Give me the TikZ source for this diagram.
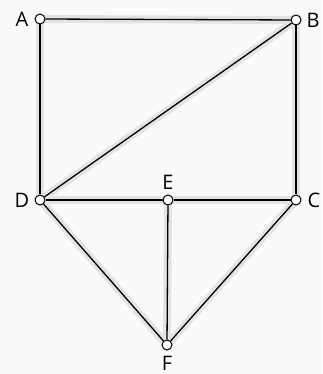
\documentclass[tikz,border=0pt]{standalone}
\usepackage{fontspec}
\setmainfont{Open Sans}
\begin{document}
\begin{tikzpicture}[x=1pt,y=1pt,
  pt/.style={circle,draw=black,fill=white,line width=1pt,inner sep=0pt,minimum size=10pt},
  edge/.style={line width=1.3pt,black},
  shade/.style={line width=8pt,gray!22,line cap=round},
  lab/.style={font=\fontsize{20}{20}\selectfont,inner sep=0pt}]
\fill[gray!4] (0,0) rectangle (322,374);
\useasboundingbox (0,0) rectangle (322,374);
\coordinate (a) at (40,355);
\coordinate (b) at (296,354);
\coordinate (d) at (40,174);
\coordinate (e) at (168,174);
\coordinate (c) at (296,174);
\coordinate (f) at (167,29);
% shadows
\begin{scope}[shift={(4,-4)}]
\draw[shade] (a)--(b)--(c)--(d)--cycle;
\draw[shade] (d)--(b);
\draw[shade] (d)--(f)--(c);
\draw[shade] (e)--(f);
\end{scope}
\node[pt] (A) at (a) {};
\node[pt] (B) at (b) {};
\node[pt] (D) at (d) {};
\node[pt] (E) at (e) {};
\node[pt] (C) at (c) {};
\node[pt] (F) at (f) {};
\draw[edge] (A)--(B);
\draw[edge] (A)--(D);
\draw[edge] (B)--(C);
\draw[edge] (B)--(D);
\draw[edge] (D)--(E);
\draw[edge] (E)--(C);
\draw[edge] (D)--(F);
\draw[edge] (C)--(F);
\draw[edge] (E)--(F);
\node[lab] (lA) at (22,355) {A};
\node[lab] (lB) at (313,354) {B};
\node[lab] (lD) at (22,174) {D};
\node[lab] (lE) at (168,192) {E};
\node[lab] (lC) at (314,174) {C};
\node[lab] (lF) at (167,11) {F};
\end{tikzpicture}
\end{document}
